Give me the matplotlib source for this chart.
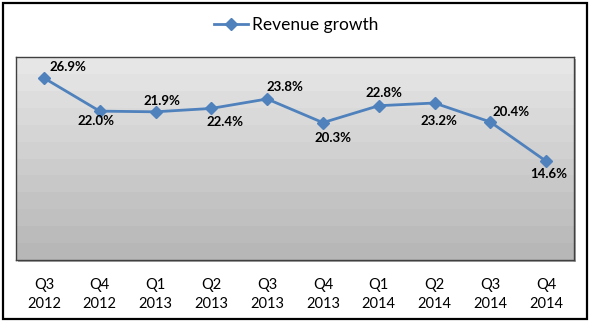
import numpy as np
import matplotlib.pyplot as plt
from matplotlib.patches import Rectangle

# data
quarters = ['Q3\n2012', 'Q4\n2012', 'Q1\n2013', 'Q2\n2013', 'Q3\n2013',
            'Q4\n2013', 'Q1\n2014', 'Q2\n2014', 'Q3\n2014', 'Q4\n2014']
growth = [26.9, 22.0, 21.9, 22.4, 23.8, 20.3, 22.8, 23.2, 20.4, 14.6]
# label offsets (pixels, text centre x / baseline y relative to point)
label_dx = [24, -4, 6, 14, 18, 10, 5, 4, 21, 3]
label_dy = [7, -13.5, 6.5, -17.5, 7.5, -19, 9, -21.5, 5.5, -17]

plt.rcParams['font.family'] = ['Lato', 'DejaVu Sans']
W, H = 591, 325
fig = plt.figure(figsize=(W / 100, H / 100), dpi=100)
fig.patch.set_facecolor('white')

# outer frame
fig.add_artist(Rectangle((3 / W, 6 / H), 584 / W, 316 / H, transform=fig.transFigure,
                         fill=False, edgecolor='black', linewidth=1.6))
# soft shadow of plot area
fig.add_artist(Rectangle((18 / W, (H - 262) / H), 558 / W, 203 / H, transform=fig.transFigure,
                         facecolor='#a8a8a8', edgecolor='none', zorder=0))

ax = fig.add_axes([16 / W, (H - 260) / H, 558 / W, 203 / H])
x = np.arange(len(quarters))
ax.set_xlim(-0.5, len(quarters) - 0.5)
ax.set_ylim(0, 30)

# banded grey gradient background
steps = 12
grad = np.linspace(0.73, 0.91, steps)
grad = np.floor(grad * 60) / 60
img = np.repeat(grad[:, None], 2, axis=1)
ax.imshow(img, cmap='gray', vmin=0, vmax=1, aspect='auto', origin='lower',
          extent=(-0.5, len(quarters) - 0.5, 0, 30), zorder=0, interpolation='nearest')

ax.plot(x, growth, color='#4f81bd', linewidth=2, marker='D', markersize=6,
        label='Revenue growth', zorder=3)

for xi, v, dx, dy in zip(x, growth, label_dx, label_dy):
    ax.annotate(f'{v:.1f}%', (xi, v), xytext=(dx, dy), textcoords='offset pixels',
                ha='center', va='baseline', fontsize=9.5, fontweight='bold')

ax.set_xticks(x)
ax.set_xticklabels(quarters, fontsize=10.5, linespacing=1.45)
ax.tick_params(axis='x', length=0, pad=13)
ax.set_yticks([])
for s in ax.spines.values():
    s.set_color('#404040')
    s.set_linewidth(1)

fig.legend(loc='center', bbox_to_anchor=(296 / W, (H - 25) / H), frameon=False,
           fontsize=12.5, handlelength=2, handletextpad=0.2)

fig.savefig('out.png', dpi=100)
